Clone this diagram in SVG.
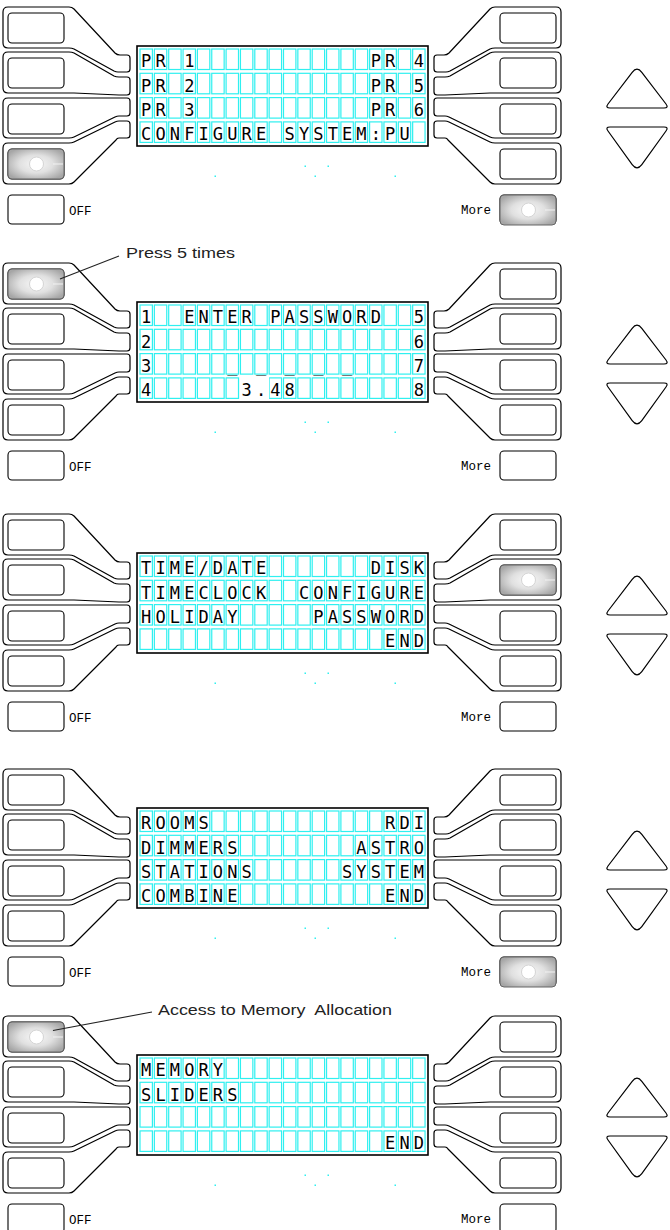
<svg xmlns="http://www.w3.org/2000/svg" xmlns:xlink="http://www.w3.org/1999/xlink" width="670" height="1230" viewBox="0 0 670 1230">
<style>
.k{fill:#fff;stroke:#000;stroke-width:1.2;stroke-linejoin:round}
.b{fill:#fff;stroke:#000;stroke-width:1.1}
.c{fill:none;stroke:#2ff0f0;stroke-width:1.2}
.fr{fill:#fff;stroke:#000;stroke-width:1.6}
.ar{fill:#fff;stroke:#000;stroke-width:1.2;stroke-linejoin:round}
.t{font-family:"DejaVu Sans Mono",monospace;font-size:17px;fill:#000;text-anchor:middle}
.lbl{font-family:"Liberation Mono",monospace;font-size:12.5px;fill:#000}
.ann{font-family:"Liberation Sans",sans-serif;font-size:15px;fill:#222;white-space:pre}
.sp{fill:#2ff0f0}
.lead{stroke:#222;stroke-width:1.1;fill:none}
</style>
<defs>
<radialGradient id="sg" cx="0.5" cy="0.5" r="0.6">
<stop offset="0" stop-color="#f8f8f8"/>
<stop offset="0.5" stop-color="#e0e0e0"/>
<stop offset="1" stop-color="#a6a6a6"/>
</radialGradient>
<g id="leftSet">
<path class="k" d="M3,12 Q3,7 8,7 L69,7 Q72,7 74,9 L115,53 Q117,55 120,55 L127,55 Q130,55 130,58 L130,69 Q130,72 127,72 L118,72 Q116,72 114,71 L74,49 Q72,48 69,48 L8,48 Q3,48 3,43 Z"/>
<path class="k" d="M3,57 Q3,52 8,52 L69,52 Q72,52 74,53 L114,76 Q116,77 119,77 L127,77 Q130,77 130,80 L130,92 Q130,95 127,95 L119,95 L74,93 L8,93 Q3,93 3,88 Z"/>
<path class="k" d="M3,103 Q3,98 8,98 L127,98 Q130,98 130,101 L130,113 Q130,116 127,116 L119,116 Q117,116 115,117 L74,137 Q72,138 69,138 L8,138 Q3,138 3,133 Z"/>
<path class="k" d="M3,148 Q3,143 8,143 L69,143 Q72,143 74,142 L115,122 Q117,121 119,121 L127,121 Q130,121 130,124 L130,135 Q130,138 127,138 L119,138 Q117,138 116,140 L74,182 Q72,184 69,184 L8,184 Q3,184 3,179 Z"/>
<rect class="b" x="8" y="13" width="56" height="30" rx="4"/>
<rect class="b" x="8" y="58" width="56" height="30" rx="4"/>
<rect class="b" x="8" y="104" width="56" height="30" rx="4"/>
<rect class="b" x="8" y="149" width="56" height="30" rx="4"/>
<rect class="b" x="8" y="195" width="56" height="29" rx="4"/>
</g>
<g id="shade">
<rect x="0" y="0" width="56" height="30" rx="4" fill="url(#sg)" stroke="#666" stroke-width="1"/>
<circle cx="28.5" cy="15" r="7" fill="#fff" stroke="#d4d4d4" stroke-width="1"/>
<line x1="45" y1="15" x2="55" y2="15" stroke="#f2f2f2" stroke-width="1"/>
</g>
<g id="row">
<rect class="c" x="140" y="0" width="12.4" height="20.5"/>
<rect class="c" x="154.35" y="0" width="12.4" height="20.5"/>
<rect class="c" x="168.7" y="0" width="12.4" height="20.5"/>
<rect class="c" x="183.05" y="0" width="12.4" height="20.5"/>
<rect class="c" x="197.4" y="0" width="12.4" height="20.5"/>
<rect class="c" x="211.75" y="0" width="12.4" height="20.5"/>
<rect class="c" x="226.1" y="0" width="12.4" height="20.5"/>
<rect class="c" x="240.45" y="0" width="12.4" height="20.5"/>
<rect class="c" x="254.8" y="0" width="12.4" height="20.5"/>
<rect class="c" x="269.15" y="0" width="12.4" height="20.5"/>
<rect class="c" x="283.5" y="0" width="12.4" height="20.5"/>
<rect class="c" x="297.85" y="0" width="12.4" height="20.5"/>
<rect class="c" x="312.2" y="0" width="12.4" height="20.5"/>
<rect class="c" x="326.55" y="0" width="12.4" height="20.5"/>
<rect class="c" x="340.9" y="0" width="12.4" height="20.5"/>
<rect class="c" x="355.25" y="0" width="12.4" height="20.5"/>
<rect class="c" x="369.6" y="0" width="12.4" height="20.5"/>
<rect class="c" x="383.95" y="0" width="12.4" height="20.5"/>
<rect class="c" x="398.3" y="0" width="12.4" height="20.5"/>
<rect class="c" x="412.65" y="0" width="12.4" height="20.5"/>
</g>
<g id="lcd">
<rect class="fr" x="137" y="46" width="291" height="100"/>
<use href="#row" y="49"/>
<use href="#row" y="73.3"/>
<use href="#row" y="97.6"/>
<use href="#row" y="121.9"/>
<rect class="sp" x="304.5" y="165.5" width="1.5" height="1.5"/>
<rect class="sp" x="327.5" y="165.5" width="1.5" height="1.5"/>
<rect class="sp" x="214.5" y="175.5" width="1.5" height="1.5"/>
<rect class="sp" x="314.5" y="175.5" width="1.5" height="1.5"/>
<rect class="sp" x="394.5" y="175.5" width="1.5" height="1.5"/>
</g>
<g id="arrows">
<path class="ar" d="M632.2,72.4 Q637,66 641.8,72.4 L666,104 Q669,108 664,108 L610,108 Q605,108 608,104 Z"/>
<path class="ar" d="M610,127 L664,127 Q669,127 666,131 L641.8,164.6 Q637,171 632.2,164.6 L608,131 Q605,127 610,127 Z"/>
</g>
<g id="labels">
<text class="lbl" x="69" y="215">OFF</text>
<text class="lbl" x="461" y="214">More</text>
</g>
</defs>

<!-- Panel 1 -->
<g id="panel1">
<g id="p1-left-keys"><use href="#leftSet"/></g>
<g id="p1-right-keys"><use href="#leftSet" transform="matrix(-1 0 0 1 564 0)"/></g>
<g id="p1-key-L4-pressed"><use href="#shade" x="8" y="149"/></g>
<g id="p1-key-more-pressed"><use href="#shade" x="500" y="195"/></g>
<g id="p1-labels"><use href="#labels"/></g>
<g id="p1-arrows"><use href="#arrows"/></g>
<g id="p1-lcd">
<use href="#lcd"/>
<text class="t" x="146.2 160.55 189.25 375.8 390.15 418.85" y="67.3">PR1PR4</text>
<text class="t" x="146.2 160.55 189.25 375.8 390.15 418.85" y="91.6">PR2PR5</text>
<text class="t" x="146.2 160.55 189.25 375.8 390.15 418.85" y="115.9">PR3PR6</text>
<text class="t" x="146.2 160.55 174.9 189.25 203.6 217.95 232.3 246.65 261 289.7 304.05 318.4 332.75 347.1 361.45 375.8 390.15 404.5" y="140.2">CONFIGURESYSTEM:PU</text>
</g>
</g>

<!-- Panel 2 -->
<g id="panel2" transform="translate(0,256)">
<g id="p2-left-keys"><use href="#leftSet"/></g>
<g id="p2-right-keys"><use href="#leftSet" transform="matrix(-1 0 0 1 564 0)"/></g>
<g id="p2-key-L1-pressed"><use href="#shade" x="8" y="13"/></g>
<g id="p2-labels"><use href="#labels"/></g>
<g id="p2-arrows"><use href="#arrows"/></g>
<g id="p2-lcd">
<use href="#lcd"/>
<rect x="239.6" y="121" width="29.5" height="22.5" fill="#fff"/>
<text class="t" x="146.2 189.25 203.6 217.95 232.3 246.65 275.35 289.7 304.05 318.4 332.75 347.1 361.45 375.8 418.85" y="67.3">1ENTERPASSWORD5</text>
<text class="t" x="146.2 418.85" y="91.6">26</text>
<text class="t" x="146.2 232.3 261 289.7 318.4 347.1 418.85" y="115.9">3_____7</text>
<text class="t" x="146.2 246.65 261 275.35 289.7 418.85" y="140.2">43.488</text>
</g>
</g>

<!-- Panel 3 -->
<g id="panel3" transform="translate(0,507)">
<g id="p3-left-keys"><use href="#leftSet"/></g>
<g id="p3-right-keys"><use href="#leftSet" transform="matrix(-1 0 0 1 564 0)"/></g>
<g id="p3-key-R2-pressed"><use href="#shade" x="500" y="58"/></g>
<g id="p3-labels"><use href="#labels"/></g>
<g id="p3-arrows"><use href="#arrows"/></g>
<g id="p3-lcd">
<use href="#lcd"/>
<text class="t" x="146.2 160.55 174.9 189.25 203.6 217.95 232.3 246.65 261 375.8 390.15 404.5 418.85" y="67.3">TIME/DATEDISK</text>
<text class="t" x="146.2 160.55 174.9 189.25 203.6 217.95 232.3 246.65 261 304.05 318.4 332.75 347.1 361.45 375.8 390.15 404.5 418.85" y="91.6">TIMECLOCKCONFIGURE</text>
<text class="t" x="146.2 160.55 174.9 189.25 203.6 217.95 232.3 318.4 332.75 347.1 361.45 375.8 390.15 404.5 418.85" y="115.9">HOLIDAYPASSWORD</text>
<text class="t" x="390.15 404.5 418.85" y="140.2">END</text>
</g>
</g>

<!-- Panel 4 -->
<g id="panel4" transform="translate(0,762)">
<g id="p4-left-keys"><use href="#leftSet"/></g>
<g id="p4-right-keys"><use href="#leftSet" transform="matrix(-1 0 0 1 564 0)"/></g>
<g id="p4-key-more-pressed"><use href="#shade" x="500" y="195"/></g>
<g id="p4-labels"><use href="#labels"/></g>
<g id="p4-arrows"><use href="#arrows"/></g>
<g id="p4-lcd">
<use href="#lcd"/>
<text class="t" x="146.2 160.55 174.9 189.25 203.6 390.15 404.5 418.85" y="67.3">ROOMSRDI</text>
<text class="t" x="146.2 160.55 174.9 189.25 203.6 217.95 232.3 361.45 375.8 390.15 404.5 418.85" y="91.6">DIMMERSASTRO</text>
<text class="t" x="146.2 160.55 174.9 189.25 203.6 217.95 232.3 246.65 347.1 361.45 375.8 390.15 404.5 418.85" y="115.9">STATIONSSYSTEM</text>
<text class="t" x="146.2 160.55 174.9 189.25 203.6 217.95 232.3 390.15 404.5 418.85" y="140.2">COMBINEEND</text>
</g>
</g>

<!-- Panel 5 -->
<g id="panel5" transform="translate(0,1009)">
<g id="p5-left-keys"><use href="#leftSet"/></g>
<g id="p5-right-keys"><use href="#leftSet" transform="matrix(-1 0 0 1 564 0)"/></g>
<g id="p5-key-L1-pressed"><use href="#shade" x="8" y="13"/></g>
<g id="p5-labels"><use href="#labels"/></g>
<g id="p5-arrows"><use href="#arrows"/></g>
<g id="p5-lcd">
<use href="#lcd"/>
<text class="t" x="146.2 160.55 174.9 189.25 203.6 217.95" y="67.3">MEMORY</text>
<text class="t" x="146.2 160.55 174.9 189.25 203.6 217.95 232.3" y="91.6">SLIDERS</text>
<text class="t" x="390.15 404.5 418.85" y="140.2">END</text>
</g>
</g>

<!-- Annotations -->
<g id="note-press5">
<text class="ann" x="126" y="258" textLength="109" lengthAdjust="spacingAndGlyphs">Press 5 times</text>
</g>
<g id="note-memory">
<text class="ann" x="158" y="1015" textLength="234" lengthAdjust="spacingAndGlyphs">Access to Memory  Allocation</text>
</g>

<g id="connectors">
<line class="lead" x1="60" y1="279" x2="119" y2="256"/>
<line class="lead" x1="53" y1="1030.5" x2="152" y2="1012"/>
</g>
</svg>
